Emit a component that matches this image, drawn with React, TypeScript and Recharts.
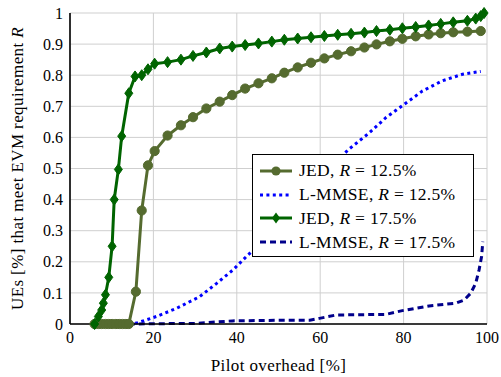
import { LineChart, Line, XAxis, YAxis, CartesianGrid } from 'recharts';

// pilot overhead [%] and fraction of UEs for each curve
const jed125X = [5.9, 6.8, 7.6, 8.5, 9.3, 10.1, 11.0, 11.8, 12.6, 13.4, 14.1, 15.8, 17.2, 18.7, 20.3, 23.4, 26.6, 29.5, 32.7, 35.9, 38.9, 42.0, 45.2, 48.4, 51.4, 54.6, 57.8, 61.0, 64.2, 67.4, 70.6, 73.5, 76.7, 79.7, 82.9, 86.0, 88.9, 91.9, 95.3, 98.5];
const jed125Y = [0, 0, 0, 0, 0, 0, 0, 0, 0, 0, 0, 0.104, 0.365, 0.51, 0.556, 0.606, 0.639, 0.665, 0.693, 0.715, 0.736, 0.757, 0.774, 0.79, 0.808, 0.825, 0.84, 0.854, 0.866, 0.877, 0.889, 0.899, 0.909, 0.917, 0.925, 0.931, 0.935, 0.938, 0.94, 0.942];

const mmse125X = [14.1, 16.0, 20.7, 25.5, 31.1, 35.1, 39.1, 42.3, 48, 54, 60, 66.6, 71.8, 75.8, 80.1, 84.5, 89.3, 94.1, 98.5];
const mmse125Y = [0, 0.003, 0.024, 0.05, 0.088, 0.13, 0.174, 0.217, 0.29, 0.375, 0.465, 0.559, 0.615, 0.664, 0.706, 0.749, 0.782, 0.803, 0.812];

const jed175X = [5.9, 6.8, 7.6, 8.0, 8.5, 9.3, 10.1, 10.6, 11.6, 12.4, 14.1, 15.6, 17.2, 18.7, 20.3, 23.4, 26.6, 29.5, 32.7, 35.9, 38.9, 42.0, 45.2, 48.4, 51.4, 54.6, 57.8, 61.0, 64.2, 67.4, 70.6, 73.5, 76.7, 79.7, 82.9, 86.0, 88.9, 91.9, 95.3, 97.3, 98.5, 99.3];
const jed175Y = [0, 0.024, 0.045, 0.067, 0.094, 0.15, 0.25, 0.4, 0.497, 0.604, 0.742, 0.796, 0.8, 0.819, 0.837, 0.842, 0.85, 0.862, 0.873, 0.886, 0.892, 0.897, 0.902, 0.908, 0.914, 0.918, 0.922, 0.926, 0.93, 0.933, 0.937, 0.942, 0.946, 0.951, 0.955, 0.96, 0.965, 0.97, 0.975, 0.982, 0.99, 1.0];

const mmse175X = [14.1, 30, 38.9, 50, 57.5, 59.8, 63.8, 75.8, 79.7, 86.1, 92.5, 94.5, 96.1, 97.3, 98.1, 98.7, 99.0];
const mmse175Y = [0, 0.002, 0.01, 0.012, 0.012, 0.018, 0.029, 0.031, 0.043, 0.058, 0.067, 0.077, 0.099, 0.131, 0.174, 0.217, 0.265];

const xTicks = [0, 20, 40, 60, 80, 100];
const yTicks = [0, 0.1, 0.2, 0.3, 0.4, 0.5, 0.6, 0.7, 0.8, 0.9, 1];

const toPoints = (xs: number[], ys: number[]) => xs.map((x, i) => ({ x, y: ys[i] }));

const OLIVE = '#556B2F';
const GREEN = '#006400';
const BLUE = '#0000FF';
const NAVY = '#00008B';
const FONT = '"Liberation Serif", serif';

const CircleDot = (props: any) => {
  const { cx, cy } = props;
  if (cx == null || cy == null) return null;
  return <circle cx={cx} cy={cy} r={4.6} fill={OLIVE} stroke={OLIVE} />;
};

const DiamondDot = (props: any) => {
  const { cx, cy } = props;
  if (cx == null || cy == null) return null;
  return (
    <polygon
      points={`${cx},${cy - 5.5} ${cx + 4},${cy} ${cx},${cy + 5.5} ${cx - 4},${cy}`}
      fill={GREEN}
      stroke={GREEN}
    />
  );
};

const YLabel = (props: any) => {
  const { viewBox } = props;
  const cx = viewBox.x + 17;
  const cy = viewBox.y + viewBox.height / 2;
  return (
    <text
      x={cx}
      y={cy}
      transform={`rotate(-90, ${cx}, ${cy})`}
      textAnchor="middle"
      dominantBaseline="central"
      fontSize={17}
      letterSpacing={0.4}
      fontFamily={FONT}
      fill="#000"
    >
      UEs [%] that meet EVM requirement <tspan fontStyle="italic">R</tspan>
    </text>
  );
};

const legendItems = [
  { name: 'JED', r: '12.5%', color: OLIVE, kind: 'circle' },
  { name: 'L-MMSE', r: '12.5%', color: BLUE, kind: 'dotted' },
  { name: 'JED', r: '17.5%', color: GREEN, kind: 'diamond' },
  { name: 'L-MMSE', r: '17.5%', color: NAVY, kind: 'dashed' },
];

const LegendBox = () => (
  <div
    style={{
      position: 'absolute',
      left: 252,
      top: 154,
      width: 222,
      height: 103,
      background: '#fff',
      border: '1.5px solid #000',
      fontFamily: FONT,
      fontSize: 17.5,
      letterSpacing: 0.3,
      color: '#000',
      boxSizing: 'border-box',
      paddingTop: 4,
    }}
  >
    {legendItems.map((it, i) => (
      <div key={i} style={{ display: 'flex', alignItems: 'center', height: 23.8 }}>
        <svg width={43} height={14} style={{ marginLeft: 3, flexShrink: 0 }}>
          <line
            x1={4}
            x2={36}
            y1={7}
            y2={7}
            stroke={it.color}
            strokeWidth={3}
            strokeDasharray={it.kind === 'dotted' ? '3 3.4' : it.kind === 'dashed' ? '6 4' : undefined}
          />
          {it.kind === 'circle' && <circle cx={20} cy={7} r={4.6} fill={it.color} />}
          {it.kind === 'diamond' && <polygon points="20,1.5 24,7 20,12.5 16,7" fill={it.color} />}
        </svg>
        <span style={{ whiteSpace: 'nowrap' }}>
          {it.name}, <i>R</i> = {it.r}
        </span>
      </div>
    ))}
  </div>
);

export default function App() {
  return (
    <div style={{ position: 'absolute', left: 0, top: 0, width: 501, height: 377, background: '#fff' }}>
      <LineChart width={501} height={377} margin={{ top: 13, right: 14, left: 0, bottom: 0 }}>
        <CartesianGrid stroke="#cfcfcf" strokeWidth={1} />
        <XAxis
          type="number"
          dataKey="x"
          domain={[0, 100]}
          ticks={xTicks}
          height={53}
          tickSize={0}
          tickMargin={8}
          axisLine={{ stroke: '#000', strokeWidth: 1.6 }}
          tick={{ fill: '#000', fontSize: 16, fontFamily: FONT }}
          label={{ value: 'Pilot overhead [%]', position: 'insideBottom', offset: 6, fill: '#000', fontSize: 17, letterSpacing: 0.4, fontFamily: FONT }}
        />
        <XAxis
          xAxisId="top"
          orientation="top"
          type="number"
          dataKey="x"
          domain={[0, 100]}
          ticks={xTicks}
          height={0}
          tick={false}
          tickLine={false}
          axisLine={{ stroke: '#000', strokeWidth: 1.6 }}
        />
        <YAxis
          type="number"
          domain={[0, 1]}
          ticks={yTicks}
          width={70}
          tickSize={0}
          tickMargin={7}
          interval={0}
          axisLine={{ stroke: '#000', strokeWidth: 1.6 }}
          tick={{ fill: '#000', fontSize: 16, fontFamily: FONT }}
          label={<YLabel />}
        />
        <YAxis
          yAxisId="right"
          orientation="right"
          type="number"
          domain={[0, 1]}
          ticks={yTicks}
          width={0}
          tick={false}
          tickLine={false}
          axisLine={{ stroke: '#000', strokeWidth: 1.6 }}
        />
        <Line
          data={toPoints(jed125X, jed125Y)}
          dataKey="y"
          type="linear"
          stroke={OLIVE}
          strokeWidth={3}
          dot={<CircleDot />}
          activeDot={false}
          isAnimationActive={false}
        />
        <Line
          data={toPoints(mmse125X, mmse125Y)}
          dataKey="y"
          type="linear"
          stroke={BLUE}
          strokeWidth={3}
          strokeDasharray="3 3.4"
          dot={false}
          activeDot={false}
          isAnimationActive={false}
        />
        <Line
          data={toPoints(jed175X, jed175Y)}
          dataKey="y"
          type="linear"
          stroke={GREEN}
          strokeWidth={3}
          dot={<DiamondDot />}
          activeDot={false}
          isAnimationActive={false}
        />
        <Line
          data={toPoints(mmse175X, mmse175Y)}
          dataKey="y"
          type="linear"
          stroke={NAVY}
          strokeWidth={3}
          strokeDasharray="6 4"
          dot={false}
          activeDot={false}
          isAnimationActive={false}
        />
      </LineChart>
      <LegendBox />
    </div>
  );
}
